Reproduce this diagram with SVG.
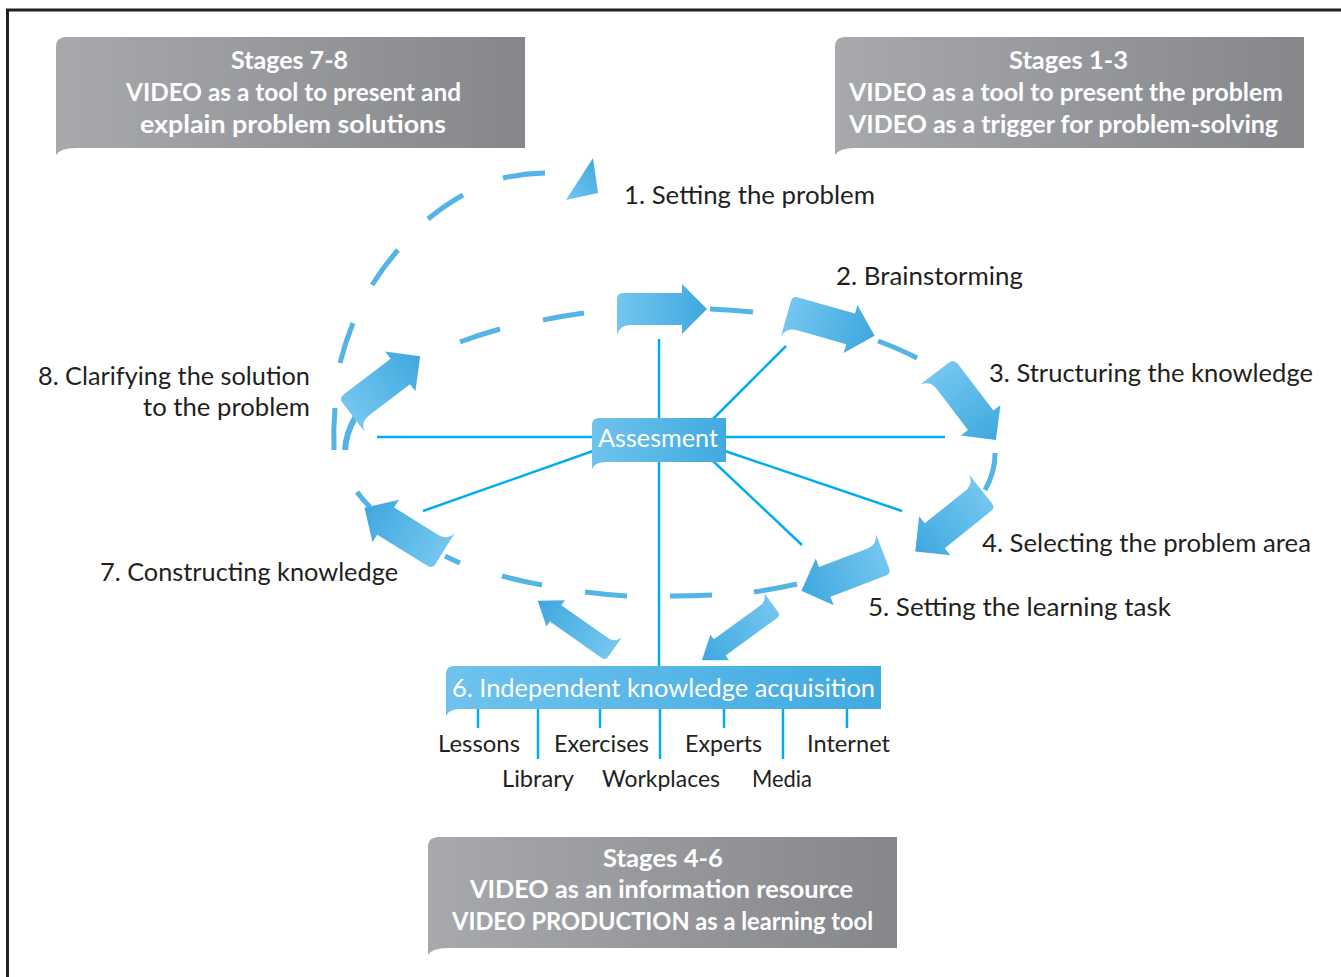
<svg xmlns="http://www.w3.org/2000/svg" xmlns:xlink="http://www.w3.org/1999/xlink" width="1341" height="977" viewBox="0 0 1341 977">
<defs>
<linearGradient id="gray" x1="0" y1="0" x2="1" y2="0">
<stop offset="0" stop-color="#a7a9ac"/><stop offset="1" stop-color="#86878b"/>
</linearGradient>
<linearGradient id="blue" x1="0" y1="0" x2="1" y2="0">
<stop offset="0" stop-color="#6fc3ed"/><stop offset="1" stop-color="#40aae0"/>
</linearGradient>
<linearGradient id="ag" x1="0" y1="0" x2="1" y2="0">
<stop offset="0" stop-color="#74c6ef"/><stop offset="1" stop-color="#3fa8df"/>
</linearGradient>
<linearGradient id="tg" x1="0" y1="1" x2="1" y2="0">
<stop offset="0" stop-color="#72c5ef"/><stop offset="1" stop-color="#40a9df"/>
</linearGradient>
<path id="bigArrow" fill="url(#ag)" d="M0,-10 Q0,-16 6,-16 L65,-16 L65,-25 L90,0 L65,25 L65,16 L13,16 Q3,16 0,26 Z"/>
<path id="smallArrow" fill="url(#ag)" d="M0,-6 Q0,-10 5,-10 L68,-10 L68,-16 L90,0 L68,16 L68,10 L11,10 Q3,10 0,18 Z"/>
<style>
.lbl{font-family:Lato,"Noto Sans",sans-serif;font-size:25px;fill:#231f20;}
.sub{font-family:Lato,"Noto Sans",sans-serif;font-size:24px;fill:#231f20;}
.ttl{font-family:Lato,"Noto Sans",sans-serif;font-size:24px;font-weight:bold;fill:#ffffff;}
.wt{font-family:Lato,"Noto Sans",sans-serif;font-size:25px;fill:#ffffff;}
.dash{fill:none;stroke:#55b4e6;stroke-width:5;}
.ln{stroke:#00aeef;stroke-width:2.5;fill:none;}
</style>
</defs>

<path d="M7.5,977 V10 H1341" fill="none" stroke="#231f20" stroke-width="3"/>

<g id="stages-7-8">
<path fill="url(#gray)" d="M56,47 Q56,37 66,37 H525 V148 H76 Q60,148 56,155 Z"/>
<text class="ttl" x="231" y="69" textLength="117" lengthAdjust="spacingAndGlyphs">Stages 7-8</text>
<text class="ttl" x="126" y="101" textLength="335" lengthAdjust="spacingAndGlyphs">VIDEO as a tool to present and</text>
<text class="ttl" x="140" y="133" textLength="306" lengthAdjust="spacingAndGlyphs">explain problem solutions</text>
</g>

<g id="stages-1-3">
<path fill="url(#gray)" d="M835,47 Q835,37 845,37 H1304 V148 H855 Q839,148 835,155 Z"/>
<text class="ttl" x="1009" y="69" textLength="119" lengthAdjust="spacingAndGlyphs">Stages 1-3</text>
<text class="ttl" x="849" y="101" textLength="434" lengthAdjust="spacingAndGlyphs">VIDEO as a tool to present the problem</text>
<text class="ttl" x="849" y="133" textLength="429" lengthAdjust="spacingAndGlyphs">VIDEO as a trigger for problem-solving</text>
</g>

<g id="stages-4-6">
<path fill="url(#gray)" d="M428,847 Q428,837 438,837 H897 V948 H448 Q432,948 428,955 Z"/>
<text class="ttl" x="603" y="867" textLength="120" lengthAdjust="spacingAndGlyphs">Stages 4-6</text>
<text class="ttl" x="470" y="898" textLength="383" lengthAdjust="spacingAndGlyphs">VIDEO as an information resource</text>
<text class="ttl" x="452" y="930" textLength="421" lengthAdjust="spacingAndGlyphs">VIDEO PRODUCTION as a learning tool</text>
</g>

<g id="connectors">
<path class="dash" d="M334,450 A240 283 0 0 1 335,408"/>
<path class="dash" d="M340,363 A240 283 0 0 1 353,323"/>
<path class="dash" d="M372,285 A240 283 0 0 1 398,250"/>
<path class="dash" d="M428,219 A240 283 0 0 1 463,195"/>
<path class="dash" d="M503,178 A240 283 0 0 1 545,173"/>
<polygon fill="url(#tg)" points="593,158 566,200 598,193"/>
<path class="dash" d="M460,342 A326 146 0 0 1 500,329"/>
<path class="dash" d="M543,320 A326 146 0 0 1 584,313"/>
<path class="dash" d="M710,309 A326 146 0 0 1 753,312"/>
<path class="dash" d="M878,341 A326 146 0 0 1 917,358"/>
<path class="dash" d="M995,453 A326 146 0 0 1 985,490"/>
<path class="dash" d="M797,584 A326 146 0 0 1 754,592"/>
<path class="dash" d="M712,595 A326 146 0 0 1 670,596"/>
<path class="dash" d="M627,596 A326 146 0 0 1 585,592"/>
<path class="dash" d="M542,585 A326 146 0 0 1 502,576"/>
<path class="dash" d="M460,563 A326 146 0 0 1 445,556"/>
<path class="dash" d="M370,507 A326 146 0 0 1 357,492"/>
<path class="dash" style="stroke-width:6" d="M345,450 A326 146 0 0 1 356,416"/>
<use xlink:href="#bigArrow" transform="translate(617,309) rotate(0)"/>
<use xlink:href="#bigArrow" transform="translate(787,315) rotate(15.9) translate(0,-4)"/>
<use xlink:href="#bigArrow" transform="translate(938,371) rotate(52.6) translate(0,-4)"/>
<use xlink:href="#bigArrow" transform="translate(983,492) rotate(141.3) translate(0,-4)"/>
<use xlink:href="#bigArrow" transform="translate(884,555) rotate(159.1) translate(0,-4)"/>
<use xlink:href="#smallArrow" transform="translate(773,605) rotate(144) translate(0,-3)"/>
<use xlink:href="#smallArrow" transform="translate(613,650) rotate(215.1) translate(0,-3)"/>
<use xlink:href="#bigArrow" transform="translate(443,552) rotate(211.9) translate(0,-4)"/>
<use xlink:href="#bigArrow" transform="translate(351,414) rotate(-37.3) translate(0,-4)"/>
<line class="ln" x1="659" y1="339" x2="659" y2="419"/>
<line class="ln" x1="659" y1="462" x2="659" y2="667"/>
<line class="ln" x1="377" y1="437" x2="593" y2="437"/>
<line class="ln" x1="725" y1="437" x2="945" y2="437"/>
<line class="ln" x1="713" y1="419" x2="786" y2="346"/>
<line class="ln" x1="725" y1="451" x2="902" y2="511"/>
<line class="ln" x1="713" y1="461" x2="802" y2="545"/>
<line class="ln" x1="593" y1="451" x2="423" y2="511"/>
<line class="ln" x1="478" y1="709" x2="478" y2="728"/>
<line class="ln" x1="538" y1="709" x2="538" y2="759"/>
<line class="ln" x1="600" y1="709" x2="600" y2="728"/>
<line class="ln" x1="660" y1="709" x2="660" y2="759"/>
<line class="ln" x1="724" y1="709" x2="724" y2="728"/>
<line class="ln" x1="783" y1="709" x2="783" y2="759"/>
<line class="ln" x1="847" y1="709" x2="847" y2="728"/>
</g>

<g id="assessment">
<path fill="url(#blue)" d="M592,425 Q592,418 599,418 H726 V462 H606 Q595,462 592,469 Z"/>
<text class="wt" x="598" y="447" textLength="120" lengthAdjust="spacingAndGlyphs">Assesment</text>
</g>

<g id="stage-6">
<path fill="url(#blue)" d="M446,674 Q446,666 454,666 H881 V709 H460 Q449,709 446,716 Z"/>
<text class="wt" x="452" y="697" textLength="423" lengthAdjust="spacingAndGlyphs">6. Independent knowledge acquisition</text>
</g>

<g id="resources">
<text class="sub" x="438" y="752" textLength="82" lengthAdjust="spacingAndGlyphs">Lessons</text>
<text class="sub" x="554" y="752" textLength="95" lengthAdjust="spacingAndGlyphs">Exercises</text>
<text class="sub" x="685" y="752" textLength="77" lengthAdjust="spacingAndGlyphs">Experts</text>
<text class="sub" x="807" y="752" textLength="83" lengthAdjust="spacingAndGlyphs">Internet</text>
<text class="sub" x="502" y="787" textLength="72" lengthAdjust="spacingAndGlyphs">Library</text>
<text class="sub" x="602" y="787" textLength="118" lengthAdjust="spacingAndGlyphs">Workplaces</text>
<text class="sub" x="752" y="787" textLength="60" lengthAdjust="spacingAndGlyphs">Media</text>
</g>

<g id="stage-1"><text class="lbl" x="624" y="204" textLength="251" lengthAdjust="spacingAndGlyphs">1. Setting the problem</text></g>
<g id="stage-2"><text class="lbl" x="836" y="285" textLength="187" lengthAdjust="spacingAndGlyphs">2. Brainstorming</text></g>
<g id="stage-3"><text class="lbl" x="989" y="382" textLength="324" lengthAdjust="spacingAndGlyphs">3. Structuring the knowledge</text></g>
<g id="stage-4"><text class="lbl" x="982" y="552" textLength="329" lengthAdjust="spacingAndGlyphs">4. Selecting the problem area</text></g>
<g id="stage-5"><text class="lbl" x="868" y="616" textLength="303" lengthAdjust="spacingAndGlyphs">5. Setting the learning task</text></g>
<g id="stage-7"><text class="lbl" x="100" y="581" textLength="298" lengthAdjust="spacingAndGlyphs">7. Constructing knowledge</text></g>
<g id="stage-8">
<text class="lbl" x="38" y="385" textLength="272" lengthAdjust="spacingAndGlyphs">8. Clarifying the solution</text>
<text class="lbl" x="143" y="416" textLength="167" lengthAdjust="spacingAndGlyphs">to the problem</text>
</g>
</svg>
